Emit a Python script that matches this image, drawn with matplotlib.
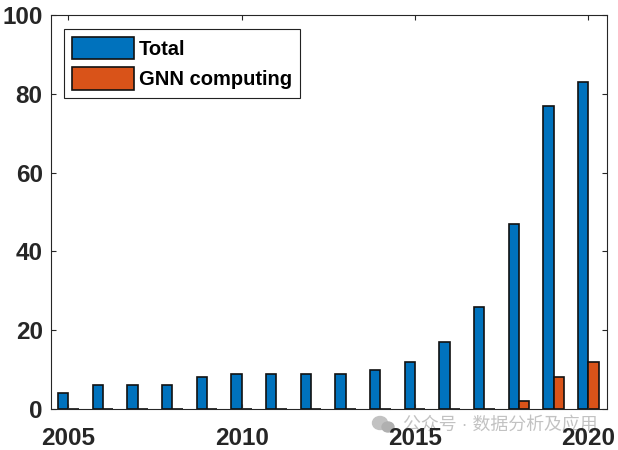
import numpy as np
import matplotlib
matplotlib.use('Agg')
import matplotlib.pyplot as plt
from matplotlib.patches import Ellipse

plt.rcParams['font.family'] = ['Liberation Sans', 'Noto Sans CJK SC', 'DejaVu Sans']

years = [2005, 2006, 2007, 2008, 2009, 2010, 2011, 2012, 2013, 2014, 2015, 2016, 2017, 2018, 2019, 2020]
total = [4, 6, 6, 6, 8, 9, 9, 9, 9, 10, 12, 17, 26, 47, 77, 83]
gnn = [0, 0, 0, 0, 0, 0, 0, 0, 0, 0, 0, 0, 0, 2, 8, 12]
y_ticks = [0, 20, 40, 60, 80, 100]
x_ticks = [2005, 2010, 2015, 2020]
labels = ['Total', 'GNN computing']

blue = '#0072BD'
orange = '#D95319'
dark = '#262626'

fig = plt.figure(figsize=(6.18, 4.5), dpi=100)
ax = fig.add_axes([51 / 618, 1 - 409 / 450, 556 / 618, 394 / 450])

x = np.array(years)
w = 0.3
ax.bar(x - w / 2, total, w, color=blue, edgecolor='#111111', linewidth=1.2, label=labels[0])
ax.bar(x + w / 2, gnn, w, color=orange, edgecolor='#111111', linewidth=1.2, label=labels[1])

ax.set_xlim(2004.5, 2020.54)
ax.set_ylim(0, 100)
ax.set_xticks(x_ticks)
ax.set_yticks(y_ticks)
ax.tick_params(axis='both', which='both', direction='in', length=3.8, width=0.8, color=dark,
               top=True, right=True, labelsize=17.5, labelcolor=dark)
ax.tick_params(axis='x', pad=13)
ax.tick_params(axis='y', pad=6)
for t in ax.get_xticklabels() + ax.get_yticklabels():
    t.set_fontweight('bold')
for s in ax.spines.values():
    s.set_linewidth(0.8)
    s.set_color(dark)

leg = ax.legend(loc='upper left', bbox_to_anchor=(13 / 556, 1 - 14 / 394), borderaxespad=0,
                fancybox=False, framealpha=1, edgecolor='#222222',
                prop={'weight': 'bold', 'size': 14.5}, handlelength=3.1, handleheight=1.35,
                handletextpad=0.25, labelspacing=0.4, borderpad=0.38)
leg.get_frame().set_linewidth(0.8)
for txt in leg.get_texts():
    txt.set_color('black')

# watermark along the bottom, under the tick labels
wm = '#c2c2c2'
fig_w, fig_h = 618, 450
fig.add_artist(Ellipse((380 / fig_w, 1 - 423 / fig_h), 15 / fig_w, 13 / fig_h, color=wm, zorder=-1))
fig.add_artist(Ellipse((388 / fig_w, 1 - 427 / fig_h), 12 / fig_w, 10 / fig_h, color='#b0b0b0', zorder=-1))
fig.text(403 / fig_w, 1 - 425 / fig_h, '公众号 · 数据分析及应用', fontsize=12.9, color=wm,
         va='center', ha='left', zorder=-1)

fig.savefig('out.png', dpi=100)
